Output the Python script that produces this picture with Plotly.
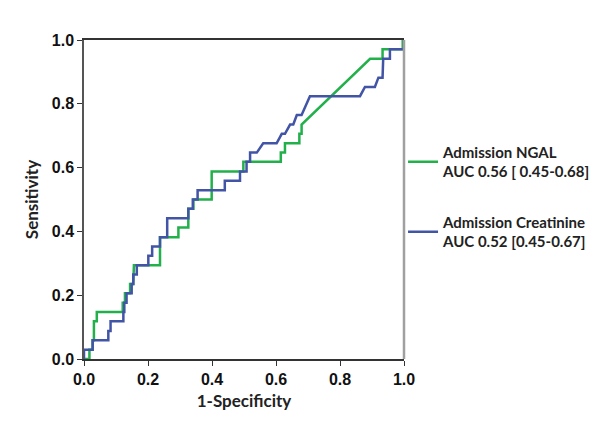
import plotly.graph_objects as go

# ROC curve vertices (1-Specificity, Sensitivity)
ngal_fpr = [0, 0.017, 0.017, 0.027, 0.027, 0.031, 0.031, 0.04, 0.04, 0.121, 0.121, 0.128, 0.128,
            0.144, 0.144, 0.154, 0.156, 0.2375, 0.2375, 0.295, 0.295, 0.326, 0.326, 0.342, 0.342,
            0.399, 0.399, 0.498, 0.498, 0.615, 0.615, 0.628, 0.628, 0.673, 0.673, 0.68, 0.68,
            0.894, 0.933, 0.933, 0.996, 0.996, 1.0]
ngal_tpr = [0, 0, 0.029, 0.029, 0.059, 0.059, 0.118, 0.118, 0.147, 0.147, 0.176, 0.176, 0.206,
            0.206, 0.235, 0.235, 0.294, 0.294, 0.382, 0.382, 0.412, 0.412, 0.471, 0.471, 0.5,
            0.5, 0.588, 0.588, 0.618, 0.618, 0.647, 0.647, 0.676, 0.676, 0.706, 0.706, 0.735,
            0.941, 0.941, 0.971, 0.971, 1.0, 1.0]

creat_fpr = [0, 0, 0.008, 0.027, 0.027, 0.076, 0.076, 0.083, 0.083, 0.123, 0.123, 0.126, 0.126,
             0.133, 0.133, 0.149, 0.149, 0.154, 0.154, 0.165, 0.165, 0.201, 0.201, 0.213, 0.213,
             0.2375, 0.2375, 0.26, 0.26, 0.326, 0.326, 0.34, 0.34, 0.355, 0.355, 0.44, 0.44,
             0.4875, 0.4875, 0.508, 0.508, 0.519, 0.519, 0.54, 0.56, 0.602, 0.618, 0.628, 0.644,
             0.654, 0.665, 0.68, 0.706, 0.8625, 0.878, 0.909, 0.92, 0.933, 0.935, 0.956, 0.956,
             1.0, 1.0]
creat_tpr = [0, 0.029, 0.029, 0.029, 0.059, 0.059, 0.088, 0.088, 0.118, 0.118, 0.147, 0.147, 0.176,
             0.176, 0.206, 0.206, 0.235, 0.235, 0.265, 0.265, 0.294, 0.294, 0.324, 0.324, 0.353,
             0.353, 0.382, 0.382, 0.441, 0.441, 0.471, 0.471, 0.5, 0.5, 0.529, 0.529, 0.559,
             0.559, 0.588, 0.588, 0.618, 0.618, 0.647, 0.647, 0.676, 0.676, 0.706, 0.706, 0.735,
             0.735, 0.765, 0.765, 0.824, 0.824, 0.853, 0.853, 0.882, 0.882, 0.941, 0.941, 0.971,
             0.971, 1.0]

series_names = ["Admission NGAL<br>AUC 0.56 [ 0.45-0.68]",
                "Admission Creatinine<br>AUC 0.52 [0.45-0.67]"]
tick_vals = [0, 0.2, 0.4, 0.6, 0.8, 1.0]
tick_text = ["0.0", "0.2", "0.4", "0.6", "0.8", "1.0"]

GREEN = "#22b04b"
BLUE = "#4254a6"

fig = go.Figure()
fig.add_trace(go.Scatter(x=ngal_fpr, y=ngal_tpr, mode="lines", name=series_names[0],
                         legendgroup="ngal", line=dict(color=GREEN, width=2.5)))
fig.add_trace(go.Scatter(x=creat_fpr, y=creat_tpr, mode="lines", name=series_names[1],
                         legendgroup="creat", line=dict(color=BLUE, width=2.5)))

tick_font = dict(family="Liberation Sans", size=16, color="#111", weight="bold")
xtitle_font = dict(family="Lato", size=17, color="#222", weight="bold")
ytitle_font = dict(family="Lato", size=17, color="#222", weight="bold")

# page body has an 8px default margin, so the figure is sized to fit the 600x431 window
fig.update_layout(
    width=592, height=423,
    margin=dict(l=76, r=196, t=32, b=72, autoexpand=False),
    paper_bgcolor="white", plot_bgcolor="white",
    showlegend=True,
    legend=dict(x=0.997, y=0.70, xanchor="left", yanchor="top",
                font=dict(family="Lato", size=15, color="#222", weight="bold"),
                tracegroupgap=28, itemwidth=30, bgcolor="rgba(0,0,0,0)"),
    xaxis=dict(range=[0, 1], tickvals=tick_vals, ticktext=tick_text, tickfont=tick_font,
               ticks="outside", ticklen=5, tickcolor="#333", showgrid=False, zeroline=False,
               showline=True, linecolor="#333", linewidth=1.5, mirror=True, automargin=False,
               title=dict(text="1-Specificity", font=xtitle_font, standoff=8)),
    yaxis=dict(range=[0, 1], tickvals=tick_vals, ticktext=tick_text, tickfont=tick_font,
               ticks="outside", ticklen=5, tickcolor="#333", showgrid=False, zeroline=False,
               showline=True, linecolor="#555", linewidth=1.5, automargin=False,
               title=dict(text="Sensitivity", font=ytitle_font, standoff=9)),
    shapes=[dict(type="line", xref="paper", yref="paper", x0=1, x1=1, y0=0, y1=1,
                 line=dict(color="#a0a0a0", width=2.5))],
)

fig.write_html("out.html")
